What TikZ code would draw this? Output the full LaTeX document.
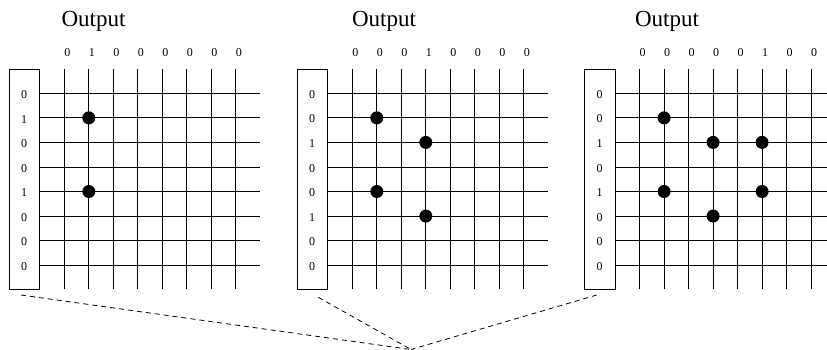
\documentclass[tikz,border=0pt]{standalone}
\usepackage{fontspec}
\setmainfont{Liberation Serif}
\tikzset{
  gridline/.style={line width=0.9pt, black},
  colbox/.style={draw, line width=0.9pt, minimum width=30.3pt, minimum height=220pt, inner sep=0pt, anchor=north west},
  dotmark/.style={circle, fill=black, minimum size=13pt, inner sep=0pt},
  titletext/.style={font=\fontsize{23}{23}\selectfont, inner sep=0pt, anchor=base},
  digit/.style={font=\fontsize{12}{12}\selectfont, inner sep=0pt},
  link/.style={dash pattern=on 5pt off 4pt, line width=0.8pt}
}
% #1 panel id, #2 x offset, #3 column labels, #4 row labels, #5 dots (col/row)
\newcommand{\drawpanel}[5]{%
  \begin{scope}[xshift=#2pt]
    \node[colbox] (box#1) at (9,68.7) {};
    \foreach \j in {0,...,7}
      \draw[gridline] (64.3+24.5*\j,68.7) -- (64.3+24.5*\j,288.7);
    \foreach \i in {0,...,7}
      \draw[gridline] (39.3,93.3+24.55*\i) -- (260,93.3+24.55*\i);
    \foreach \v [count=\j from 0] in {#3}
      \node[digit] (c#1-\j) at (67.3+24.5*\j,52.5) {\v};
    \foreach \v [count=\i from 0] in {#4}
      \node[digit] (r#1-\i) at (24.2,94.5+24.55*\i) {\v};
    \foreach \c/\r in {#5}
      \node[dotmark] (dot#1-\c-\r) at (64.3+24.5*\c,93.3+24.55*\r) {};
  \end{scope}}
\begin{document}
\begin{tikzpicture}[x=1pt,y=-1pt]
  \useasboundingbox (0,0) rectangle (827,349);
  \clip (0,0) rectangle (827,349);
  \drawpanel{a}{0}{0,1,0,0,0,0,0,0}{0,1,0,0,1,0,0,0}{1/1,1/4}
  \drawpanel{b}{288}{0,0,0,1,0,0,0,0}{0,0,1,0,0,1,0,0}{1/1,1/4,3/2,3/5}
  \drawpanel{c}{575.3}{0,0,0,0,0,1,0,0}{0,0,1,0,1,0,0,0}{1/1,1/4,3/2,3/5,5/2,5/4}
  \node[titletext] (ta) at (93.5,26.7) {Output};
  \node[titletext] (tb) at (384,26.7) {Output};
  \node[titletext] (tc) at (667,26.7) {Output};
  \coordinate (apex) at (411,349.5);
  \coordinate (da) at (21,295);
  \coordinate (db) at (318.3,297.3);
  \coordinate (dc) at (596.7,295);
  \draw[link] (da) -- (apex);
  \draw[link] (db) -- (apex);
  \draw[link] (dc) -- (apex);
\end{tikzpicture}
\end{document}
